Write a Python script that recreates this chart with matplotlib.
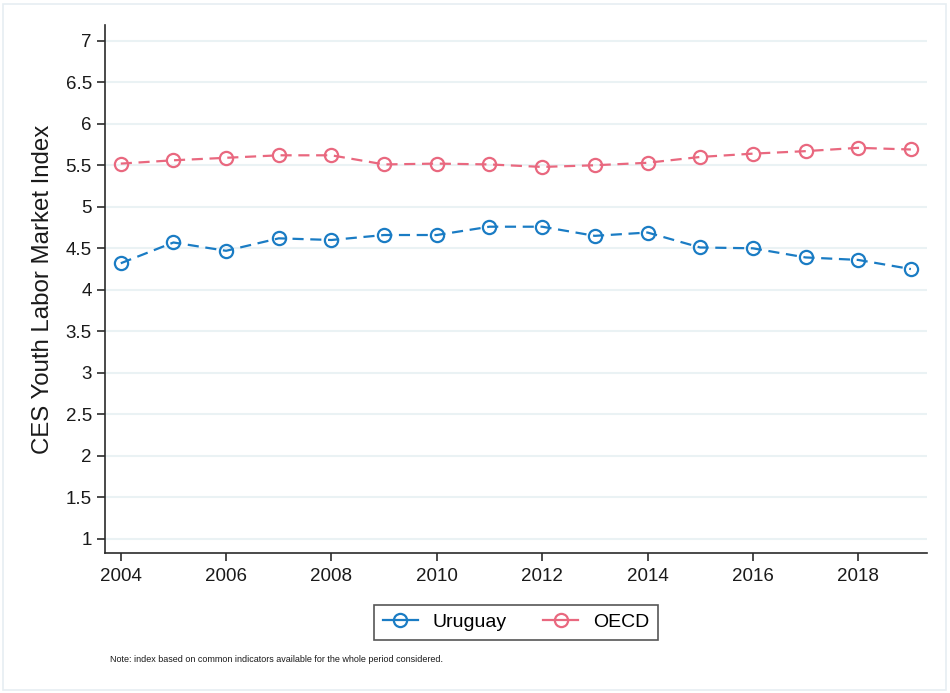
import matplotlib
matplotlib.use("Agg")
import matplotlib.pyplot as plt
from matplotlib.patches import Rectangle
from matplotlib.lines import Line2D

plt.rcParams['font.family'] = ['Liberation Sans', 'DejaVu Sans']

years = list(range(2004, 2020))
uruguay = [4.32, 4.57, 4.47, 4.62, 4.60, 4.66, 4.66, 4.76, 4.76, 4.65, 4.69, 4.51, 4.50, 4.39, 4.36, 4.25]
oecd = [5.52, 5.56, 5.59, 5.62, 5.62, 5.51, 5.52, 5.51, 5.48, 5.50, 5.53, 5.60, 5.64, 5.67, 5.71, 5.69]
yticks = [1, 1.5, 2, 2.5, 3, 3.5, 4, 4.5, 5, 5.5, 6, 6.5, 7]
ytick_labels = ["1", "1.5", "2", "2.5", "3", "3.5", "4", "4.5", "5", "5.5", "6", "6.5", "7"]
xticks = list(range(2004, 2020, 2))
series_names = ['Uruguay', 'OECD']

c_uy = '#1a7cc4'
c_oecd = '#e9687f'
spine_c = '#2b2b2b'

fig = plt.figure(figsize=(9.5, 6.93), dpi=100)
fig.patches.append(Rectangle((3/950, 3/693), 1 - 7/950, 1 - 7/693, transform=fig.transFigure,
                             fill=False, edgecolor='#e6eef2', linewidth=1.2))
ax = fig.add_axes([0.1105, 0.202, 0.976 - 0.1105, 0.964 - 0.202])

for y in yticks:
    ax.axhline(y, color='#eaf2f4', linewidth=1.5, zorder=0)

dash = (0, (5, 3))
ax.plot(years, uruguay, color=c_uy, linestyle=dash, linewidth=1.6, marker='o', markersize=9.5,
        markerfacecolor='none', markeredgewidth=1.6)
ax.plot(years, oecd, color=c_oecd, linestyle=dash, linewidth=1.6, marker='o', markersize=9.5,
        markerfacecolor='none', markeredgewidth=1.6)

ax.set_xlim(2003.70, 2019.31)
ax.set_ylim(0.83, 7.19)
ax.set_yticks(yticks)
ax.set_yticklabels(ytick_labels)
ax.set_xticks(xticks)

for s in ['top', 'right']:
    ax.spines[s].set_visible(False)
for s in ['left', 'bottom']:
    ax.spines[s].set_color(spine_c)
    ax.spines[s].set_linewidth(1.2)

ax.tick_params(axis='both', direction='out', length=6, width=1.2, color=spine_c,
               labelsize=13.5, labelcolor='#1a1a1a')
ax.tick_params(axis='x', pad=5)
ax.set_ylabel('CES Youth Labor Market Index', fontsize=17.3, color='#1a1a1a', labelpad=8)

handles = [Line2D([], [], color=c, linewidth=1.6, marker='o', markersize=9.5,
                  markerfacecolor='none', markeredgewidth=1.6)
           for c in (c_uy, c_oecd)]
leg = ax.legend(handles, series_names, loc='center', bbox_to_anchor=(0.5, -0.131), ncol=2,
                fontsize=14, frameon=True, fancybox=False, edgecolor=spine_c, handlelength=1.8,
                columnspacing=1.85, borderpad=0.45, handletextpad=0.77, borderaxespad=0)
leg.get_frame().set_linewidth(1.2)

fig.text(110/950, 1 - 660/693, 'Note: index based on common indicators available for the whole period considered.',
         fontsize=6.5, color='#1a1a1a', va='center', ha='left')

fig.savefig('out.png', dpi=100, facecolor='white')
